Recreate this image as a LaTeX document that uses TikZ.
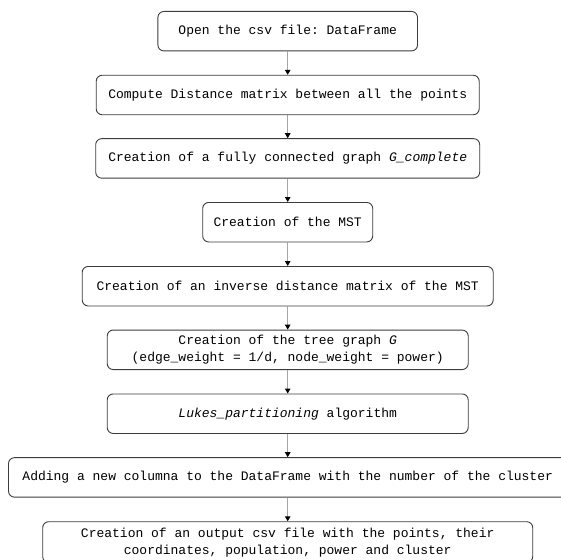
\documentclass[tikz,border=0pt]{standalone}
\usepackage{fontspec}
\setmonofont{Liberation Mono}
\usetikzlibrary{arrows.meta}
\definecolor{boxline}{RGB}{60,60,60}
\definecolor{flowgray}{RGB}{165,165,165}

\begin{document}
\begin{tikzpicture}[x=1pt, y=1pt,
    box/.style={draw=boxline, line width=0.9pt, rounded corners=6pt, minimum height=39.5pt, align=center, inner sep=3pt, font=\ttfamily\fontsize{13}{17}\selectfont},
    flow/.style={draw=flowgray, line width=1pt, -{Triangle[length=5pt, width=5.5pt, color=black, fill=black]}}]
    \clip (0,0) rectangle (561,-559);
    % Boxes
    \node[box, minimum width=259.6pt] (csv) at (287.7,-31.2) {Open the csv file: DataFrame};
    \node[box, minimum width=383pt] (dist) at (287.7,-95) {Compute Distance matrix between all the points};
    \node[box, minimum width=384pt] (gcomp) at (287.7,-158.4) {Creation of a fully connected graph \textit{G\_complete}};
    \node[box, minimum width=170pt] (mst) at (287.7,-222.2) {Creation of the MST};
    \node[box, minimum width=411pt] (inv) at (287.7,-286.2) {Creation of an inverse distance matrix of the MST};
    \node[box, minimum width=361pt] (tree) at (287.7,-349.8) {Creation of the tree graph \textit{G}\\(edge\_weight = 1/d, node\_weight = power)};
    \node[box, minimum width=361pt] (lukes) at (287.7,-413.7) {\textit{Lukes\_partitioning} algorithm};
    \node[box, minimum width=558.4pt] (col) at (287.7,-477.4) {Adding a new columna to the DataFrame with the number of the cluster};
    \node[box, minimum width=490pt, minimum height=41pt] (out) at (287.7,-542.2) {Creation of an output csv file with the points, their\\coordinates, population, power and cluster};

    % Arrows
    \draw[flow] (csv) -- (dist);
    \draw[flow] (dist) -- (gcomp);
    \draw[flow] (gcomp) -- (mst);
    \draw[flow] (mst) -- (inv);
    \draw[flow] (inv) -- (tree);
    \draw[flow] (tree) -- (lukes);
    \draw[flow] (lukes) -- (col);
    \draw[flow] (col) -- (out);
\end{tikzpicture}
\end{document}
